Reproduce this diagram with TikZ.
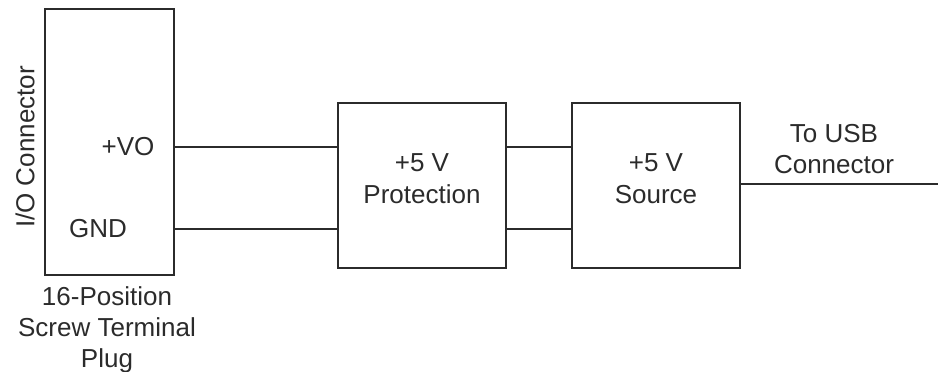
\documentclass[tikz,border=0pt]{standalone}
\usepackage{fontspec}
\setmainfont{Liberation Sans}
\usetikzlibrary{calc}
\definecolor{ink}{rgb}{0.17,0.17,0.17}
\tikzstyle{block} = [draw=ink, line width=2pt, inner sep=0pt]
\tikzstyle{label} = [text=ink, font=\fontsize{26}{31}\selectfont, align=center, inner sep=0pt]
\tikzstyle{wire} = [draw=ink, line width=2pt]

\begin{document}
\begin{tikzpicture}[x=1pt, y=-1pt]
        \useasboundingbox (0,0) rectangle (938,372);

        \node at (109.5,142) [block, minimum width=129pt, minimum height=266pt](lb) {};
        \node at (422,185.5) [block, minimum width=168pt, minimum height=165pt, label, text depth=13.5pt, font=\fontsize{26}{32}\selectfont](prot) {+5 V\\Protection};
        \node at (656,185.5) [block, minimum width=168pt, minimum height=165pt, label, text depth=13.5pt, font=\fontsize{26}{32}\selectfont](src) {+5 V\\Source};

        \node at (25,147) [label, rotate=90](io) {I/O Connector};
        \node at (128,147) [label](vo) {+VO};
        \node at (98,229) [label](gnd) {GND};
        \node at (107,330) [label](plug) {16-Position\\Screw Terminal\\Plug};
        \node at (834,149) [label](usb) {To USB\\Connector};
        \coordinate (usbend) at (938,184);

        \draw[wire] (lb.east |- vo) -- (prot.west |- vo);
        \draw[wire] (lb.east |- gnd) -- (prot.west |- gnd);
        \draw[wire] (prot.east |- vo) -- (src.west |- vo);
        \draw[wire] (prot.east |- gnd) -- (src.west |- gnd);
        \draw[wire] (src.east |- usbend) -- (usbend);

    \end{tikzpicture}
\end{document}
